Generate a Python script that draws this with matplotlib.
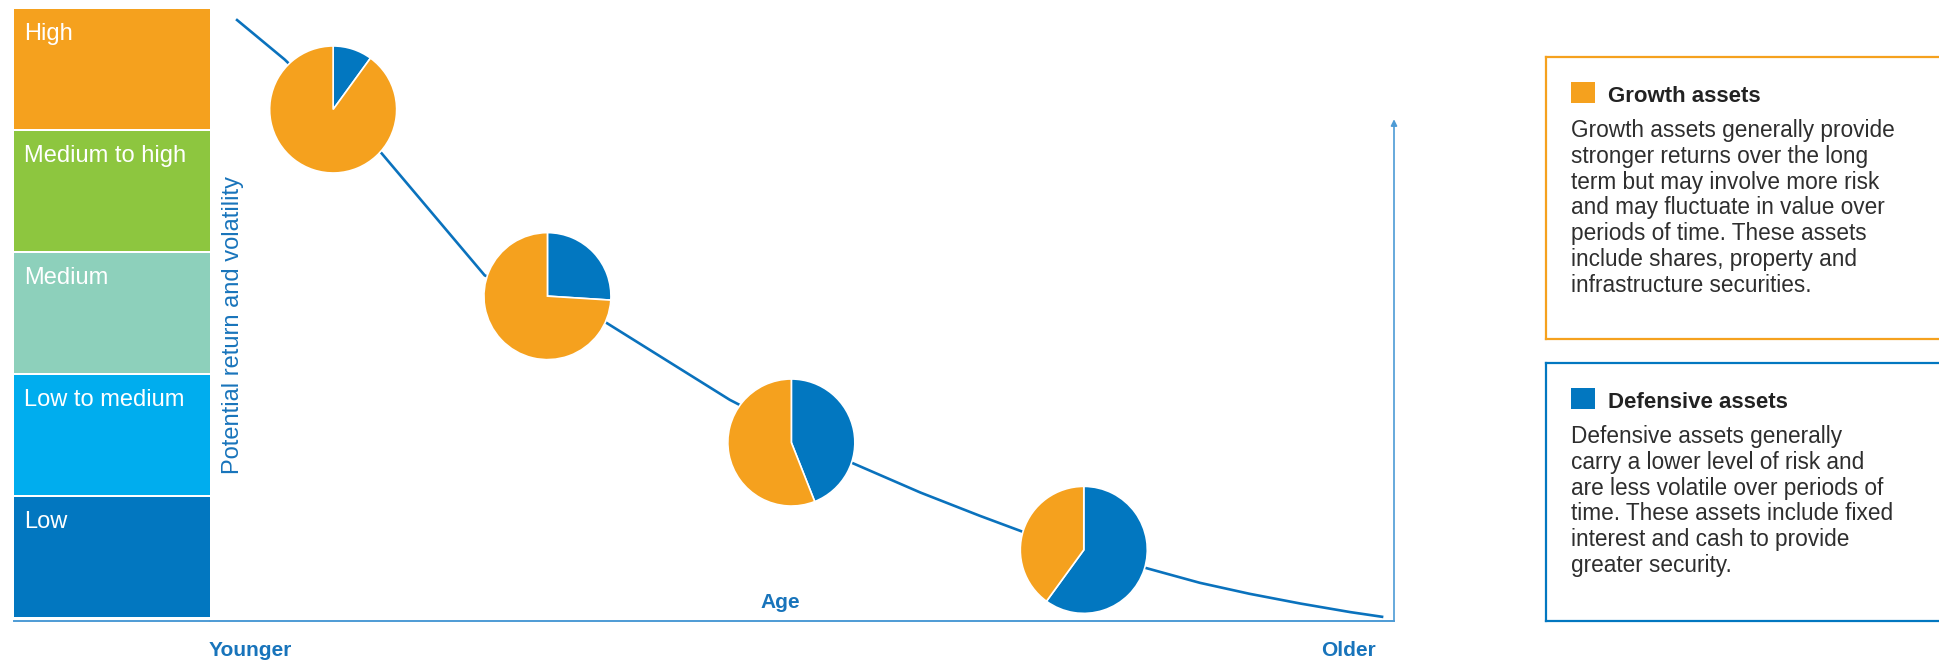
import matplotlib.pyplot as plt
from matplotlib.patches import Rectangle

plt.rcParams['font.family'] = ['Liberation Sans', 'DejaVu Sans']

# risk bands, bottom to top
risk_levels = ['Low', 'Low to medium', 'Medium', 'Medium to high', 'High']
risk_colors = ['#0277c0', '#00adee', '#8dd0bb', '#8dc63f', '#f5a11e']

# glide path (age 0-100, risk level 0-5)
curve_age = [2.2, 6.3, 14.5, 23.2, 33.5, 43.9, 54.3, 60.0, 65.0, 68.6,
             79.1, 83.6, 87.8, 92.1, 96.3, 99.1]
curve_risk = [4.90, 4.57, 3.80, 2.80, 2.41, 1.78, 1.26, 1.02, 0.83, 0.70,
              0.40, 0.28, 0.19, 0.11, 0.04, 0.0]

# asset mix pies along the path
pie_age = [10.4, 28.5, 49.1, 73.8]
pie_risk = [4.16, 2.63, 1.43, 0.55]
defensive = [10, 26, 44, 60]
growth = [90, 74, 56, 40]

growth_title = 'Growth assets'
growth_text = ['Growth assets generally provide',
               'stronger returns over the long',
               'term but may involve more risk',
               'and may fluctuate in value over',
               'periods of time. These assets',
               'include shares, property and',
               'infrastructure securities.']
defensive_title = 'Defensive assets'
defensive_text = ['Defensive assets generally',
                  'carry a lower level of risk and',
                  'are less volatile over periods of',
                  'time. These assets include fixed',
                  'interest and cash to provide',
                  'greater security.']

ORANGE = '#f5a11e'
BLUE = '#0277c0'
LINE_BLUE = '#0a72bd'
AXIS_BLUE = '#4d9bd5'
TEXT_BLUE = '#1874bb'
BODY = '#2e2e2e'

W, H = 1939, 665
fig = plt.figure(figsize=(W / 100, H / 100), dpi=100)


def box(l, t, r, b):
    return [l / W, 1 - b / H, (r - l) / W, (b - t) / H]


YMIN = -0.033

# risk bands
ax_risk = fig.add_axes(box(14, 7, 210, 621))
for i, (lab, col) in enumerate(zip(risk_levels, risk_colors)):
    ax_risk.bar(0.5, 1 - 2 / 122, bottom=i, width=1, color=col, linewidth=0)
    ax_risk.text(10 / 196, i + 1 - 16 / 122, lab, color='white', fontsize=17,
                 va='top', ha='left')
ax_risk.set_xlim(0, 1)
ax_risk.set_ylim(YMIN, 5)
ax_risk.set_xticks([])
ax_risk.set_yticks([])
for s in ['top', 'left', 'right']:
    ax_risk.spines[s].set_visible(False)
ax_risk.spines['bottom'].set_color(AXIS_BLUE)
ax_risk.spines['bottom'].set_linewidth(1.4)

# main chart
ax = fig.add_axes(box(210, 7, 1394, 621))
ax.set_xlim(0, 100)
ax.set_ylim(YMIN, 5)
ax.set_xticks([])
ax.set_yticks([])
for s in ['top', 'left', 'right']:
    ax.spines[s].set_visible(False)
ax.spines['bottom'].set_color(AXIS_BLUE)
ax.spines['bottom'].set_linewidth(1.4)

ax.plot(curve_age, curve_risk, color=LINE_BLUE, lw=1.9, solid_capstyle='butt')

ax.annotate('', xy=(100, 4.08), xytext=(100, YMIN),
            arrowprops=dict(arrowstyle='-|>', color=AXIS_BLUE, lw=1.2,
                            shrinkA=0, shrinkB=0, mutation_scale=9),
            annotation_clip=False)

ax.set_ylabel('Potential return and volatility', color=TEXT_BLUE, fontsize=17)
ax.yaxis.set_label_coords(0.029, 0.482)
ax.set_xlabel('Age', color=TEXT_BLUE, fontsize=15, fontweight='bold')
ax.xaxis.set_label_coords(0.482, 0.045)

# pies
px_x = 1184 / 100
px_y = 614 / (5 - YMIN)
r_px = 63.5
for a, rk, d, g in zip(pie_age, pie_risk, defensive, growth):
    w = 2 * r_px / px_x
    h = 2 * r_px / px_y
    pax = ax.inset_axes([a - w / 2, rk - h / 2, w, h], transform=ax.transData)
    pax.pie([d, g], colors=[BLUE, ORANGE], startangle=90, counterclock=False,
            radius=1, wedgeprops=dict(edgecolor='white', linewidth=1.2))
    pax.set_xlim(-1.0, 1.0)
    pax.set_ylim(-1.0, 1.0)

# age ends
fig.text(250 / W, 1 - 651 / H, 'Younger', color=TEXT_BLUE, fontsize=15,
         fontweight='bold', ha='center', va='center')
fig.text(1349 / W, 1 - 651 / H, 'Older', color=TEXT_BLUE, fontsize=15,
         fontweight='bold', ha='center', va='center')


# legend boxes
def info_box(top, bottom, color, title, lines):
    bx = fig.add_axes(box(1546, top, 1950, bottom))
    bx.set_xlim(1546, 1950)
    bx.set_ylim(bottom, top)
    bx.set_xticks([])
    bx.set_yticks([])
    bx.patch.set_alpha(0)
    for s in bx.spines.values():
        s.set_color(color)
        s.set_linewidth(1.6)
    bx.add_patch(Rectangle((1571, top + 25), 24, 21, color=color, lw=0))
    bx.text(1608, top + 45, title, color='#222222', fontsize=16,
            fontweight='bold', ha='left', va='baseline')
    for k, line in enumerate(lines):
        bx.text(1571, top + 80 + k * 25.8, line, color=BODY, fontsize=16.3,
                ha='left', va='baseline')


info_box(57, 339, ORANGE, growth_title, growth_text)
info_box(363, 621, BLUE, defensive_title, defensive_text)

fig.savefig('out.png', dpi=100)
